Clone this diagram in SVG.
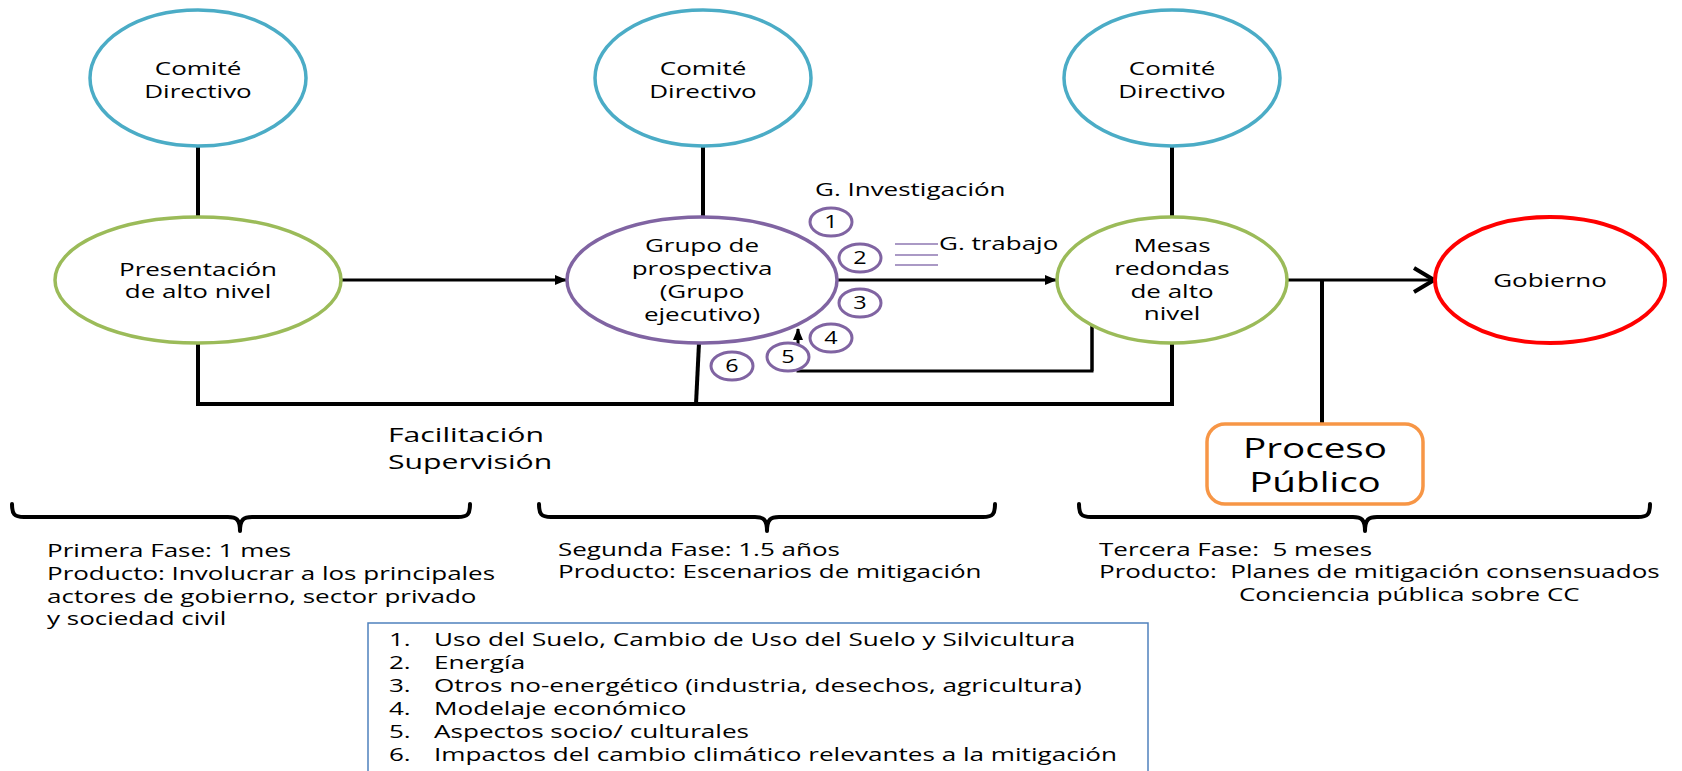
<svg xmlns="http://www.w3.org/2000/svg" width="1682" height="771" viewBox="0 0 1682 771">
<style>
text{font-family:'Open Sans','DejaVu Sans',sans-serif;font-size:18px;fill:#000;white-space:pre}
.c{text-anchor:middle}
.big{font-size:27px}
.mid{font-size:20px}
.cd{fill:#fff;stroke:#4BACC6;stroke-width:3.5}
.gr{fill:#fff;stroke:#9BBB59;stroke-width:3.5}
.pu{fill:#fff;stroke:#8064A2;stroke-width:3.5}
.sm{fill:#fff;stroke:#8064A2;stroke-width:3}
.rd{fill:#fff;stroke:#FF0000;stroke-width:4}
.ln{fill:none;stroke:#000;stroke-width:4}
.ar{fill:none;stroke:#000;stroke-width:3}
.br{fill:none;stroke:#000;stroke-width:4;stroke-linecap:round;stroke-linejoin:round}
</style>
<defs>
<marker id="tri" viewBox="0 0 12 10" refX="11" refY="5" markerWidth="12" markerHeight="10" markerUnits="userSpaceOnUse" orient="auto">
<path d="M0,0 L12,5 L0,10 z" fill="#000"/>
</marker>
<marker id="chev" viewBox="0 0 24 28" refX="22" refY="14" markerWidth="24" markerHeight="28" markerUnits="userSpaceOnUse" orient="auto">
<path d="M2,2 L22,14 L2,26" fill="none" stroke="#000" stroke-width="4"/>
</marker>
</defs>
<rect width="1682" height="771" fill="#fff"/>

<g id="connectors">
<path class="ln" d="M198,146 V217"/>
<path class="ln" d="M703,147 V217"/>
<path class="ln" d="M1172,146 V217"/>
<path class="ar" d="M342,280 H566" marker-end="url(#tri)"/>
<path class="ar" d="M837,280 H1056" marker-end="url(#tri)"/>
<path class="ar" d="M1287,280 H1434" marker-end="url(#chev)"/>
<path class="ln" d="M1322,280 V424"/>
<path class="ln" d="M198,343 V404 H1172 V343"/>
<path class="ln" d="M699,343 L696,404"/>
<path class="ar" d="M1092,325 V371 H798 V329" marker-end="url(#tri)"/>
<path class="ar" d="M1092,325 V371"/>
</g>

<g id="comite1">
<ellipse class="cd" cx="198" cy="78" rx="108" ry="68"/>
<text class="c" transform="translate(198,0) scale(1.444,1)"><tspan x="0" y="75">Comité</tspan><tspan x="0" y="98">Directivo</tspan></text>
</g>
<g id="comite2">
<ellipse class="cd" cx="703" cy="78" rx="108" ry="68"/>
<text class="c" transform="translate(703,0) scale(1.444,1)"><tspan x="0" y="75">Comité</tspan><tspan x="0" y="98">Directivo</tspan></text>
</g>
<g id="comite3">
<ellipse class="cd" cx="1172" cy="78" rx="108" ry="68"/>
<text class="c" transform="translate(1172,0) scale(1.444,1)"><tspan x="0" y="75">Comité</tspan><tspan x="0" y="98">Directivo</tspan></text>
</g>

<g id="presentacion">
<ellipse class="gr" cx="198" cy="280" rx="143" ry="63"/>
<text class="c" transform="translate(198,0) scale(1.444,1)"><tspan x="0" y="276">Presentación</tspan><tspan x="0" y="298">de alto nivel</tspan></text>
</g>

<g id="grupo">
<ellipse class="pu" cx="702" cy="280" rx="135" ry="63"/>
<text class="c" transform="translate(702,0) scale(1.444,1)"><tspan x="0" y="252">Grupo de</tspan><tspan x="0" y="275">prospectiva</tspan><tspan x="0" y="298">(Grupo</tspan><tspan x="0" y="321">ejecutivo)</tspan></text>
</g>

<g id="mesas">
<ellipse class="gr" cx="1172" cy="280" rx="115" ry="63"/>
<text class="c" transform="translate(1172,0) scale(1.444,1)"><tspan x="0" y="252">Mesas</tspan><tspan x="0" y="275">redondas</tspan><tspan x="0" y="298">de alto</tspan><tspan x="0" y="320">nivel</tspan></text>
</g>

<g id="gobierno">
<ellipse class="rd" cx="1550" cy="280" rx="115" ry="63"/>
<text class="c" transform="translate(1550,0) scale(1.444,1)"><tspan x="0" y="287">Gobierno</tspan></text>
</g>

<g id="g-investigacion">
<text transform="translate(815,0) scale(1.444,1)"><tspan x="0" y="196">G. Investigación</tspan></text>
</g>

<g id="g-trabajo">
<path d="M895,244 H938 M895,255 H938 M895,265 H938" stroke="#8F78B3" stroke-width="1.5" fill="none"/>
<text transform="translate(939,0) scale(1.444,1)"><tspan x="0" y="250">G. trabajo</tspan></text>
</g>

<g id="circle1"><ellipse class="sm" cx="831" cy="222" rx="21" ry="14"/><text class="c" transform="translate(831,0) scale(1.3,1)"><tspan x="0" y="228">1</tspan></text></g>
<g id="circle2"><ellipse class="sm" cx="860" cy="258" rx="21" ry="14"/><text class="c" transform="translate(860,0) scale(1.3,1)"><tspan x="0" y="264">2</tspan></text></g>
<g id="circle3"><ellipse class="sm" cx="860" cy="303" rx="21" ry="14"/><text class="c" transform="translate(860,0) scale(1.3,1)"><tspan x="0" y="309">3</tspan></text></g>
<g id="circle4"><ellipse class="sm" cx="831" cy="338" rx="21" ry="14"/><text class="c" transform="translate(831,0) scale(1.3,1)"><tspan x="0" y="344">4</tspan></text></g>
<g id="circle5"><ellipse class="sm" cx="788" cy="357" rx="21" ry="14"/><text class="c" transform="translate(788,0) scale(1.3,1)"><tspan x="0" y="363">5</tspan></text></g>
<g id="circle6"><ellipse class="sm" cx="732" cy="366" rx="21" ry="14"/><text class="c" transform="translate(732,0) scale(1.3,1)"><tspan x="0" y="372">6</tspan></text></g>

<g id="facilitacion">
<text class="mid" transform="translate(388,0) scale(1.51,1)"><tspan x="0" y="442">Facilitación</tspan><tspan x="0" y="469">Supervisión</tspan></text>
</g>

<g id="proceso-publico">
<rect x="1207" y="424" width="216" height="80" rx="18" ry="18" fill="#fff" stroke="#F79646" stroke-width="3.5"/>
<text class="c big" transform="translate(1315,0) scale(1.43,1)"><tspan x="0" y="458">Proceso</tspan><tspan x="0" y="492">Público</tspan></text>
</g>

<g id="fase1">
<path class="br" d="M12,504 C12,514 14,517 24,517 H228 C236,517 240,519 240,531 C240,519 244,517 252,517 H458 C468,517 470,514 470,504"/>
<text transform="translate(47,0) scale(1.444,1)"><tspan x="0" y="557">Primera Fase: 1 mes</tspan><tspan x="0" y="580">Producto: Involucrar a los principales</tspan><tspan x="0" y="603">actores de gobierno, sector privado</tspan><tspan x="0" y="625">y sociedad civil</tspan></text>
</g>

<g id="fase2">
<path class="br" d="M539,504 C539,514 541,517 551,517 H755 C763,517 767,519 767,531 C767,519 771,517 779,517 H983 C993,517 995,514 995,504"/>
<text transform="translate(558,0) scale(1.444,1)"><tspan x="0" y="556">Segunda Fase: 1.5 años</tspan><tspan x="0" y="578">Producto: Escenarios de mitigación</tspan></text>
</g>

<g id="fase3">
<path class="br" d="M1079,504 C1079,514 1081,517 1091,517 H1353 C1361,517 1365,519 1365,531 C1365,519 1369,517 1377,517 H1638 C1648,517 1650,514 1650,504"/>
<text transform="translate(1099,0) scale(1.444,1)"><tspan x="0" y="556">Tercera Fase:  5 meses</tspan><tspan x="0" y="578">Producto:  Planes de mitigación consensuados</tspan></text>
<text transform="translate(1239,0) scale(1.444,1)"><tspan x="0" y="601">Conciencia pública sobre CC</tspan></text>
</g>

<g id="lista">
<rect x="368" y="623" width="780" height="200" fill="#fff" stroke="#4F81BD" stroke-width="1.5"/>
<text transform="translate(389,0) scale(1.444,1)"><tspan x="0" y="646">1.</tspan><tspan x="0" y="669">2.</tspan><tspan x="0" y="692">3.</tspan><tspan x="0" y="715">4.</tspan><tspan x="0" y="738">5.</tspan><tspan x="0" y="761">6.</tspan></text>
<text transform="translate(434,0) scale(1.452,1)"><tspan x="0" y="646">Uso del Suelo, Cambio de Uso del Suelo y Silvicultura</tspan><tspan x="0" y="669">Energía</tspan><tspan x="0" y="692">Otros no-energético (industria, desechos, agricultura)</tspan><tspan x="0" y="715">Modelaje económico</tspan><tspan x="0" y="738">Aspectos socio/ culturales</tspan><tspan x="0" y="761">Impactos del cambio climático relevantes a la mitigación</tspan></text>
</g>
</svg>
